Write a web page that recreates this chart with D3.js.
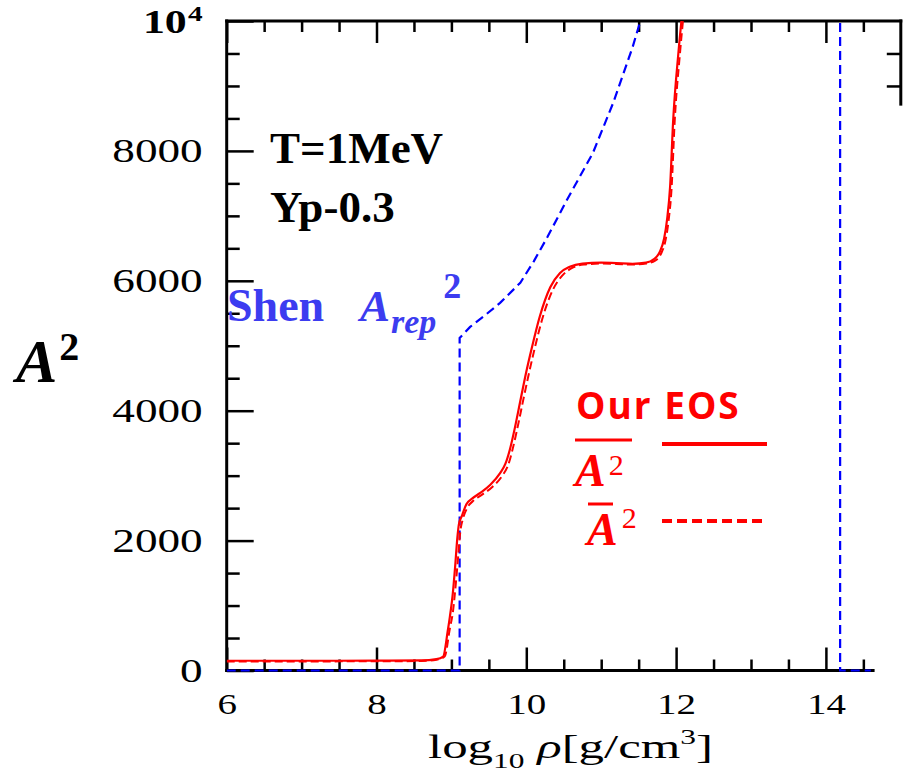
<!DOCTYPE html>
<html><head><meta charset="utf-8">
<script src="https://cdn.jsdelivr.net/npm/d3@7"></script>
<style>body{margin:0;background:#fff} svg{display:block}</style>
</head><body><svg id="c" width="905" height="772"></svg>
<script>
// ---------- data ----------
const xMajorTicks = [6, 8, 10, 12, 14];
const xTickLabels = ["6", "8", "10", "12", "14"];
const xMinorTicks = [6.5, 7, 7.5, 8.5, 9, 9.5, 10.5, 11, 11.5, 12.5, 13, 13.5, 14.5];
const yMajorTicks = [0, 2000, 4000, 6000, 8000, 10000];
const yTickLabels = ["0", "2000", "4000", "6000", "8000", "10^4"];
const yMinorTicks = [500, 1000, 1500, 2500, 3000, 3500, 4500, 5000, 5500, 6500, 7000, 7500, 8500, 9000, 9500];
const rightTicks = [9000, 9500];

// our EOS, <A^2> (solid)
const redSolid = [[6,150],[7,150],[8,152],[8.6,155],[8.8,175],[8.89,215],[8.95,600],[8.98,830],[9.02,1200],[9.05,1600],[9.08,2050],[9.10,2250],[9.14,2380],[9.20,2560],[9.28,2650],[9.38,2730],[9.52,2860],[9.65,3040],[9.72,3180],[9.78,3400],[9.85,3750],[9.92,4150],[10.0,4600],[10.07,4950],[10.18,5450],[10.32,5900],[10.45,6120],[10.58,6215],[10.75,6265],[11.0,6280],[11.2,6272],[11.42,6262],[11.6,6280],[11.7,6330],[11.78,6440],[11.84,6650],[11.88,6950],[11.92,7450],[11.96,8450],[12.03,9500],[12.08,10100]];
// our EOS, <A>^2 (dashed)
const redDashed = [[6,140],[7,140],[8,142],[8.6,146],[8.8,165],[8.91,215],[8.98,650],[9.02,900],[9.06,1350],[9.09,1750],[9.12,2150],[9.15,2320],[9.21,2500],[9.30,2620],[9.40,2700],[9.55,2830],[9.68,3000],[9.76,3170],[9.82,3420],[9.89,3780],[9.96,4170],[10.04,4600],[10.11,4950],[10.21,5400],[10.35,5850],[10.48,6080],[10.60,6190],[10.77,6250],[11.0,6265],[11.2,6260],[11.42,6250],[11.6,6265],[11.72,6310],[11.80,6420],[11.86,6630],[11.90,6930],[11.94,7430],[11.98,8430],[12.05,9480],[12.10,10100]];
// Shen A_rep^2 (blue dashed)
const shenBlue = [[6,0],[9.11,0],[9.11,5120],[9.25,5290],[9.45,5470],[9.65,5660],[9.92,5970],[10.1,6300],[10.28,6670],[10.54,7240],[10.89,7970],[11.16,8740],[11.42,9600],[11.6,10300],[12.5,14000],[14.19,20000],[14.19,0],[14.6,0]];

// ---------- layout ----------
const svg = d3.select("#c");
const x = d3.scaleLinear().domain([6, 15]).range([226.7, 900.8]);
const y = d3.scaleLinear().domain([0, 10000]).range([670.5, 21]);
const xEnd = 14.63, rightFrameBottom = 8720;
const serif = "'Liberation Serif', 'Times New Roman', serif";

function styleTicks(g, w) {
  g.select(".domain").remove();
  g.selectAll(".tick line").attr("stroke", "#000").attr("stroke-width", w);
}

// bottom axis
const gB = svg.append("g").attr("transform", `translate(0,${y(0)})`);
gB.call(d3.axisBottom(x).tickValues(xMajorTicks).tickSize(-23).tickPadding(22)
  .tickFormat((d, i) => xTickLabels[i]));
styleTicks(gB, 2.5);
gB.selectAll("text").attr("font-family", serif).attr("font-size", 30).attr("fill", "#000")
  .attr("transform", "scale(1.3,1)");
const gBm = svg.append("g").attr("transform", `translate(0,${y(0)})`);
gBm.call(d3.axisBottom(x).tickValues(xMinorTicks).tickSize(-11).tickFormat(""));
styleTicks(gBm, 2.5);

// top axis
const gT = svg.append("g").attr("transform", `translate(0,${y(10000)})`);
gT.call(d3.axisTop(x).tickValues(xMajorTicks).tickSize(-22).tickFormat(""));
styleTicks(gT, 2.5);
const gTm = svg.append("g").attr("transform", `translate(0,${y(10000)})`);
gTm.call(d3.axisTop(x).tickValues(xMinorTicks).tickSize(-11).tickFormat(""));
styleTicks(gTm, 2.5);

// left axis
const gL = svg.append("g").attr("transform", `translate(${x(6)},0)`);
gL.call(d3.axisLeft(y).tickValues(yMajorTicks).tickSize(-27).tickPadding(24)
  .tickFormat((d, i) => yTickLabels[i]));
styleTicks(gL, 2.5);
gL.selectAll("text").attr("font-family", serif).attr("font-size", 34).attr("fill", "#000")
  .attr("x", 0).attr("transform", "translate(-24,0) scale(1.33,1)");
gL.selectAll("text").filter(d => d === 10000).each(function () {
  const t = d3.select(this);
  const parts = yTickLabels[yTickLabels.length - 1].split("^");
  t.text(null).attr("font-weight", "bold").attr("dy", "0.34em");
  t.append("tspan").text(parts[0]).attr("font-size", 33);
  t.append("tspan").text(parts[1]).attr("font-size", 22).attr("dx", 1).attr("dy", -12);
});
const gLm = svg.append("g").attr("transform", `translate(${x(6)},0)`);
gLm.call(d3.axisLeft(y).tickValues(yMinorTicks).tickSize(-13).tickFormat(""));
styleTicks(gLm, 2.5);

// right axis (partially visible)
const gR = svg.append("g").attr("transform", `translate(${x(15)},0)`);
gR.call(d3.axisRight(y).tickValues(rightTicks).tickSize(-14).tickFormat(""));
styleTicks(gR, 2.5);

// frame
const frame = svg.append("g").attr("stroke", "#000").attr("stroke-width", 3).attr("fill", "none")
  .attr("stroke-linecap", "square");
frame.append("line").attr("x1", x(6)).attr("x2", x(15)).attr("y1", y(10000)).attr("y2", y(10000));
frame.append("line").attr("x1", x(6)).attr("x2", x(6)).attr("y1", y(10000)).attr("y2", y(0));
frame.append("line").attr("x1", x(6)).attr("x2", x(xEnd)).attr("y1", y(0)).attr("y2", y(0));
frame.append("line").attr("x1", x(15)).attr("x2", x(15)).attr("y1", y(10000)).attr("y2", y(rightFrameBottom));

// clip
svg.append("clipPath").attr("id", "pc").append("rect")
  .attr("x", x(6)).attr("y", y(10000)).attr("width", x(15) - x(6)).attr("height", y(0) - y(10000) + 3);

const lineM = d3.line().x(d => x(d[0])).y(d => y(d[1])).curve(d3.curveMonotoneX);
const lineL = d3.line().x(d => x(d[0])).y(d => y(d[1]));
const curves = svg.append("g").attr("clip-path", "url(#pc)").attr("fill", "none");
curves.append("path").datum(shenBlue).attr("d", lineL).attr("stroke", "#0000ff")
  .attr("stroke-width", 2.2).attr("stroke-dasharray", "9,5");
curves.append("path").datum(redDashed).attr("d", lineM).attr("stroke", "#ff0000")
  .attr("stroke-width", 2).attr("stroke-dasharray", "8,4");
curves.append("path").datum(redSolid).attr("d", lineM).attr("stroke", "#ff0000")
  .attr("stroke-width", 2.2);

// ---------- texts ----------
// x axis title
const xt = svg.append("text").attr("font-family", serif).attr("font-size", 34).attr("fill", "#000")
  .attr("text-anchor", "middle");
xt.append("tspan").text("log");
xt.append("tspan").text("10").attr("font-size", 21).attr("dy", 10);
xt.append("tspan").text(" ").attr("dy", -10);
xt.append("tspan").text("ρ").attr("font-style", "italic");
xt.append("tspan").text("[g/cm");
xt.append("tspan").text("3").attr("font-size", 21).attr("dy", -14);
xt.append("tspan").text("]").attr("dy", 14);
const xtw = xt.node().getComputedTextLength();
xt.attr("transform", `translate(570.5,758) scale(${285 / xtw},1)`);

// y axis title
const yt = svg.append("text").attr("font-family", serif).attr("font-weight", "bold").attr("fill", "#000")
  .attr("x", 16).attr("y", 382);
yt.append("tspan").text("A").attr("font-style", "italic").attr("font-size", 62);
yt.append("tspan").text("2").attr("font-size", 40).attr("dx", 2).attr("dy", -22);

// condition labels
svg.append("text").attr("font-family", serif).attr("font-weight", "bold").attr("font-size", 45)
  .attr("x", 270).attr("y", 163).attr("fill", "#000").text("T=1MeV");
svg.append("text").attr("font-family", serif).attr("font-weight", "bold").attr("font-size", 45)
  .attr("x", 270).attr("y", 222).attr("fill", "#000").text("Yp-0.3");

// Shen label
const shenColor = "#3c3cf0";
svg.append("text").attr("font-family", serif).attr("font-weight", "bold").attr("font-size", 46)
  .attr("x", 227).attr("y", 321).attr("fill", shenColor).text("Shen");
const sh = svg.append("text").attr("font-family", serif).attr("font-weight", "bold")
  .attr("fill", shenColor).attr("x", 360).attr("y", 321);
sh.append("tspan").text("A").attr("font-style", "italic").attr("font-size", 45);
sh.append("tspan").text("rep").attr("font-style", "italic").attr("font-size", 34).attr("dx", 1).attr("dy", 12);
sh.append("tspan").text("2").attr("font-size", 36).attr("dx", 7).attr("dy", -35);

// legend
const red = "#ff0000";
svg.append("text").attr("font-family", "'Open Sans', sans-serif").attr("font-weight", 700)
  .attr("font-size", 37).attr("letter-spacing", 2).attr("x", 576).attr("y", 419).attr("fill", red).text("Our EOS");
const l1 = svg.append("text").attr("font-family", serif).attr("fill", red).attr("x", 575).attr("y", 486);
l1.append("tspan").text("A").attr("font-style", "italic").attr("font-weight", "bold").attr("font-size", 46);
l1.append("tspan").text("2").attr("font-size", 30).attr("dx", 3).attr("dy", -11);
svg.append("line").attr("x1", 575).attr("x2", 632).attr("y1", 440).attr("y2", 440)
  .attr("stroke", red).attr("stroke-width", 3);
const l2 = svg.append("text").attr("font-family", serif).attr("fill", red).attr("x", 587).attr("y", 545);
l2.append("tspan").text("A").attr("font-style", "italic").attr("font-weight", "bold").attr("font-size", 46);
l2.append("tspan").text("2").attr("font-size", 30).attr("dx", 4).attr("dy", -17);
svg.append("line").attr("x1", 588).attr("x2", 613).attr("y1", 504).attr("y2", 504)
  .attr("stroke", red).attr("stroke-width", 3);
svg.append("line").attr("x1", 662).attr("x2", 767).attr("y1", 444).attr("y2", 444)
  .attr("stroke", red).attr("stroke-width", 4);
svg.append("line").attr("x1", 662).attr("x2", 767).attr("y1", 521).attr("y2", 521)
  .attr("stroke", red).attr("stroke-width", 4).attr("stroke-dasharray", "10,5");
</script></body></html>
